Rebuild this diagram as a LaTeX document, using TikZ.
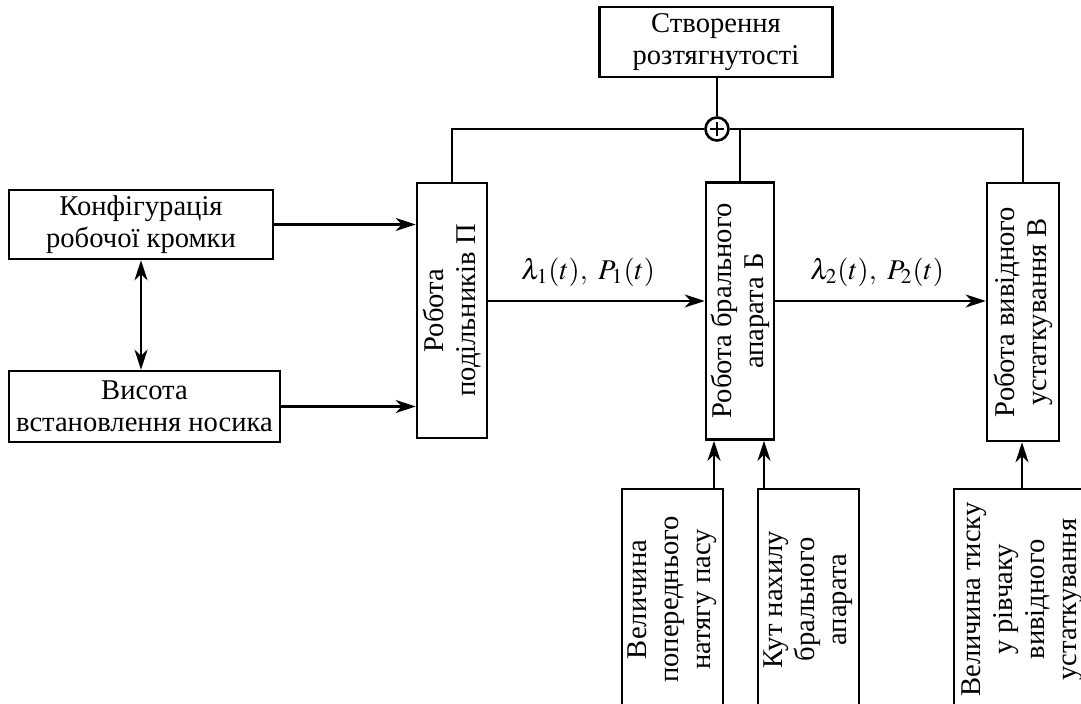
\documentclass[tikz,border=0pt]{standalone}
\usepackage{mathptmx}
\usepackage{fontspec}
\setmainfont{Liberation Serif}
\usetikzlibrary{arrows.meta}

\begin{document}
\begin{tikzpicture}[>={Stealth[length=10pt,width=6.5pt,inset=3pt]},x=0.5pt,y=-0.5pt,line width=1.3pt,
  box/.style={draw,align=center,inner sep=0pt,font=\fontsize{14.3}{16}\selectfont},
  vbox/.style={box,rotate=90},
  lbl/.style={font=\fontsize{14.3}{16}\selectfont}]
  \clip (0,0) rectangle (1081,704);

  % Top block and summation
  \node[box,minimum width=116.5pt,minimum height=35pt] (stretch) at (716,42) {Створення\\розтягнутості};
  \node[draw,circle,minimum size=11.5pt,inner sep=0pt] (sum) at (717,129) {};
  \draw ([xshift=-3.6pt]sum.center) -- ([xshift=3.6pt]sum.center)
        ([yshift=-3.6pt]sum.center) -- ([yshift=3.6pt]sum.center);

  % Left input blocks
  \node[box,minimum width=132pt,minimum height=34.5pt] (konf) at (141,224.5) {Конфігурація\\робочої кромки};
  \node[box,minimum width=135.5pt,minimum height=35.5pt] (vys) at (144.5,406.5) {Висота\\встановлення носика};

  % Main chain
  \node[vbox,minimum width=127.5pt,minimum height=35pt] (pod) at (452,310.5) {Робота\\подільників П};
  \node[vbox,minimum width=128.5pt,minimum height=34pt] (brl) at (740,311) {Робота брального\\апарата Б};
  \node[vbox,minimum width=129pt,minimum height=36pt] (vyv) at (1023,312) {Робота вивідного\\устаткування В};

  % Lower input blocks
  \node[vbox,minimum width=110.5pt,minimum height=50.5pt] (nat) at (672.5,599.5) {Величина\\попереднього\\натягу пасу};
  \node[vbox,minimum width=110.5pt,minimum height=50.5pt] (kut) at (808.5,599.5) {Кут нахилу\\брального\\апарата};
  \node[vbox,minimum width=110.5pt,minimum height=68pt] (tysk) at (1022,599.5) {Величина тиску\\у рівчаку\\вивідного\\устаткування};

  % Bus to summation
  \draw (stretch.south -| sum) -- (sum.north);
  \draw (pod.east) |- (sum.west);
  \draw (sum.east) -| (vyv.east);
  \draw (brl.east) -- (brl.east |- sum);

  % Signal flow
  \coordinate (lev) at (0,301);
  \draw[->] (konf.east) -- (konf.east -| pod.north);
  \draw[->] (vys.east) -- (vys.east -| pod.north);
  \draw[<->] (konf.south) -- (konf.south |- vys.north);
  \draw[->] (pod.south |- lev) -- (brl.north |- lev);
  \draw[->] (brl.south |- lev) -- (vyv.north |- lev);
  \node[lbl] (lam1) at (588,272) {$\lambda_1(t),\ P_1(t)$};
  \node[lbl] (lam2) at (877,272) {$\lambda_2(t),\ P_2(t)$};

  % Lower inputs
  \draw[->] ([xshift=20.75pt]nat.east) -- ([xshift=20.75pt]nat.east |- brl.west);
  \draw[->] ([xshift=-22.25pt]kut.east) -- ([xshift=-22.25pt]kut.east |- brl.west);
  \draw[->] (tysk.east) -- (tysk.east |- vyv.west);
\end{tikzpicture}
\end{document}
